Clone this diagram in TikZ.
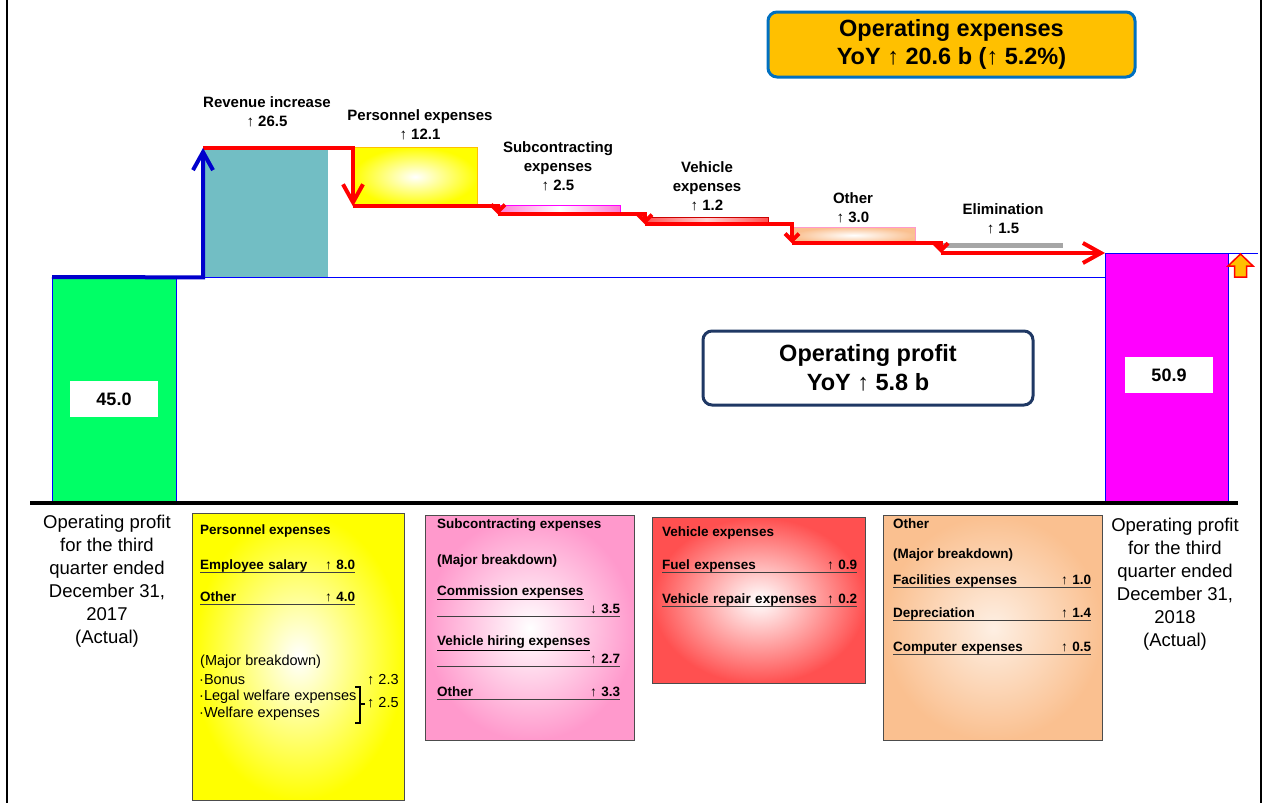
\documentclass[tikz,border=0pt]{standalone}
\usepackage{fontspec}
\setmainfont{Liberation Sans}
\usepackage{tikz}
\usetikzlibrary{arrows.meta, positioning}
\definecolor{verde}{RGB}{0, 255, 102}
\definecolor{turquesa}{RGB}{114, 190, 196}
\definecolor{fucsia}{RGB}{255, 0, 255}
\definecolor{ambar}{RGB}{255, 192, 0}
\definecolor{azulcaja}{RGB}{0, 112, 192}
\definecolor{marino}{RGB}{31, 56, 100}
\definecolor{azul}{RGB}{0, 0, 204}
\definecolor{rojo}{RGB}{255, 0, 0}
\definecolor{rosa}{RGB}{255, 153, 204}
\definecolor{rojoclaro}{RGB}{255, 80, 80}
\definecolor{melocoton}{RGB}{250, 192, 144}
\definecolor{gris}{RGB}{166, 166, 166}
\tikzset{
    barra/.style={anchor=north west, inner sep=0pt},
    etiq/.style={font=\bfseries\fontsize{15}{19}\selectfont, align=center, inner sep=0pt},
    caja/.style={draw, rounded corners=9pt, line width=3pt, align=center, font=\bfseries\fontsize{23.5}{28.5}\selectfont},
    valor/.style={fill=white, font=\bfseries\fontsize{18}{22}\selectfont, minimum width=88pt, minimum height=36pt},
    pie/.style={font=\fontsize{18.5}{23}\selectfont, align=center},
    panel/.style={draw=black!70, line width=1.2pt, anchor=north west, inner sep=0pt},
    ptxt/.style={font=\bfseries\fontsize{13.5}{17}\selectfont, anchor=west, inner sep=0pt},
    fila/.style={ptxt, text width=#1, text depth=2.5pt, anchor=south west},
    nrm/.style={font=\fontsize{14.5}{17}\selectfont, anchor=west, inner sep=0pt},
    subr/.style={black!75, line width=1pt},
    redline/.style={rojo, line width=4pt},
    puntagrande/.style={-{Straight Barb[length=18pt, width=20pt]}},
    puntachica/.style={-{Straight Barb[length=7pt, width=14pt]}},
}
\begin{document}
\begin{tikzpicture}[x=1pt, y=-1pt]
    \useasboundingbox (0,0) rectangle (1264,803);
    \draw[line width=2.5pt] (7,0) -- (7,803);
    \draw[line width=2.5pt] (1261,0) -- (1261,803);

    \node[barra, fill=verde, draw=blue, minimum width=124pt, minimum height=226pt] (q17) at (52,277) {};
    \node[barra, fill=turquesa, minimum width=125pt, minimum height=129pt] (rev) at (203,148) {};
    \node[barra, inner color=white, outer color=yellow, draw=ambar, minimum width=124pt, minimum height=59pt] (per) at (353,147) {};
    \node[barra, left color=rosa!80!fucsia, right color=rosa!80!fucsia, middle color=white, draw=fucsia, minimum width=122pt, minimum height=9pt] (sub) at (498,205) {};
    \node[barra, left color=rojoclaro, right color=rojoclaro, middle color=rojoclaro!25, draw=rojo!80!black, minimum width=123pt, minimum height=7pt] (veh) at (645,217) {};
    \node[barra, inner color=white, outer color=melocoton, draw=rosa, minimum width=123pt, minimum height=16pt] (oth) at (792,227) {};
    \node[barra, fill=gris, minimum width=120pt, minimum height=5pt] (elim) at (943,243) {};
    \node[barra, fill=fucsia, draw=blue, minimum width=123pt, minimum height=250pt] (q18) at (1105,253) {};

    \draw[blue, line width=0.8pt] (q17.north east) -- (q17.north east -| q18.west);
    \draw[blue, line width=0.8pt] (q18.north east) -- +(30,0);
    \fill[ambar, draw=rojo, line width=1.5pt] (1240.5,254) -- (1253,266) -- (1246.5,266) -- (1246.5,277) -- (1234.5,277) -- (1234.5,266) -- (1228,266) -- cycle;

    \coordinate (elimb) at (941,253);
    \draw[redline, puntagrande] (rev.north west) -| (per.south west);
    \draw[redline, puntachica] (per.south west) -| (sub.south west);
    \draw[redline, puntachica] (sub.south west) -| (veh.south west);
    \draw[redline, puntachica] (veh.south west) -| (oth.south west);
    \draw[redline, puntachica] (oth.south west) -| (elimb);
    \draw[redline, puntagrande] (elimb) -- (q18.north west);
    \draw[azul, line width=4pt, puntagrande] (q17.north west) -- (rev.south west) -- (rev.north west);

    \node[etiq] (revl) at (267,111.5) {Revenue increase\\↑ 26.5};
    \node[etiq] (perl) at (420,125) {Personnel expenses\\↑ 12.1};
    \node[etiq] (subl) at (558,166) {Subcontracting\\expenses\\↑ 2.5};
    \node[etiq] (vehl) at (707,186) {Vehicle\\expenses\\↑ 1.2};
    \node[etiq] (othl) at (853,207.5) {Other\\↑ 3.0};
    \node[etiq] (eliml) at (1003,218.5) {Elimination\\↑ 1.5};

    \node[caja, fill=ambar, draw=azulcaja, minimum width=367pt, minimum height=65pt] (oe) at (951.5,44.5) {Operating expenses\\YoY ↑ 20.6 b (↑ 5.2\%)};
    \node[caja, fill=white, draw=marino, minimum width=330pt, minimum height=74pt] (op) at (868,368) {Operating profit\\YoY ↑ 5.8 b};

    \node[valor] (v17) at (114,399) {45.0};
    \node[valor] (v18) at (1169,375) {50.9};

    \draw[line width=4pt] (30,503) -- (1238,503);

    \node[pie] (c17) at (107,581.5) {Operating profit\\for the third\\quarter ended\\December 31,\\2017\\(Actual)};
    \node[pie] (c18) at (1175,584.5) {Operating profit\\for the third\\quarter ended\\December 31,\\2018\\(Actual)};

    \node[panel, inner color=white, outer color=yellow, minimum width=212pt, minimum height=287pt] (pbox) at (192,513) {};
    \node[panel, inner color=white, outer color=rosa, minimum width=209pt, minimum height=225pt] (sbox) at (425,515) {};
    \node[panel, inner color=white, outer color=rojoclaro, minimum width=213pt, minimum height=166pt] (vbox) at (652,517) {};
    \node[panel, inner color=melocoton!25, outer color=melocoton, minimum width=219pt, minimum height=225pt] (obox) at (883,515) {};

    \node[ptxt] (pt) at (200,531) {Personnel expenses};
    \node[fila=155pt] (es) at (200,572) {Employee salary\hfill↑ 8.0};
    \node[fila=155pt] (po) at (200,604) {Other\hfill↑ 4.0};
    \node[nrm] (pmb) at (200,662) {(Major breakdown)};
    \node[nrm] (bo) at (199,680) {·Bonus};
    \node[nrm] (lw) at (199,697) {·Legal welfare expenses};
    \node[nrm] (we) at (199,714) {·Welfare expenses};
    \draw[line width=1.2pt] (355,687) -- (360,687) -- (360,723) -- (355,723);
    \draw[line width=1.2pt] (360,704) -- (365,704);
    \node[nrm] (b23) at (367,680) {↑ 2.3};
    \node[nrm] (b25) at (367,703) {↑ 2.5};

    \node[ptxt] (st) at (437,525) {Subcontracting expenses};
    \node[ptxt] (smb) at (437,561) {(Major breakdown)};
    \node[ptxt] (cel) at (437,593) {\underline{Commission expenses}};
    \node[fila=183pt] (ce) at (437,616) {\mbox{}\hfill↓ 3.5};
    \node[ptxt] (vhl) at (437,643) {\underline{Vehicle hiring expenses}};
    \node[fila=183pt] (vh) at (437,666) {\mbox{}\hfill↑ 2.7};
    \node[fila=183pt] (so) at (437,699) {Other\hfill↑ 3.3};

    \node[ptxt] (vt) at (662,533) {Vehicle expenses};
    \node[fila=195pt] (fu) at (662,572) {Fuel expenses\hfill↑ 0.9};
    \node[fila=195pt] (vr) at (662,606) {Vehicle repair expenses\hfill↑ 0.2};

    \node[ptxt] (ot) at (893,524) {Other};
    \node[ptxt] (omb) at (893,555) {(Major breakdown)};
    \node[fila=198pt] (fa) at (893,587) {Facilities expenses\hfill↑ 1.0};
    \node[fila=198pt] (de) at (893,620) {Depreciation\hfill↑ 1.4};
    \node[fila=198pt] (co) at (893,654) {Computer expenses\hfill↑ 0.5};

    \foreach \n in {es,po,ce,vh,so,fu,vr,fa,de,co}
        \draw[subr] (\n.south west) -- (\n.south east);
\end{tikzpicture}
\end{document}
